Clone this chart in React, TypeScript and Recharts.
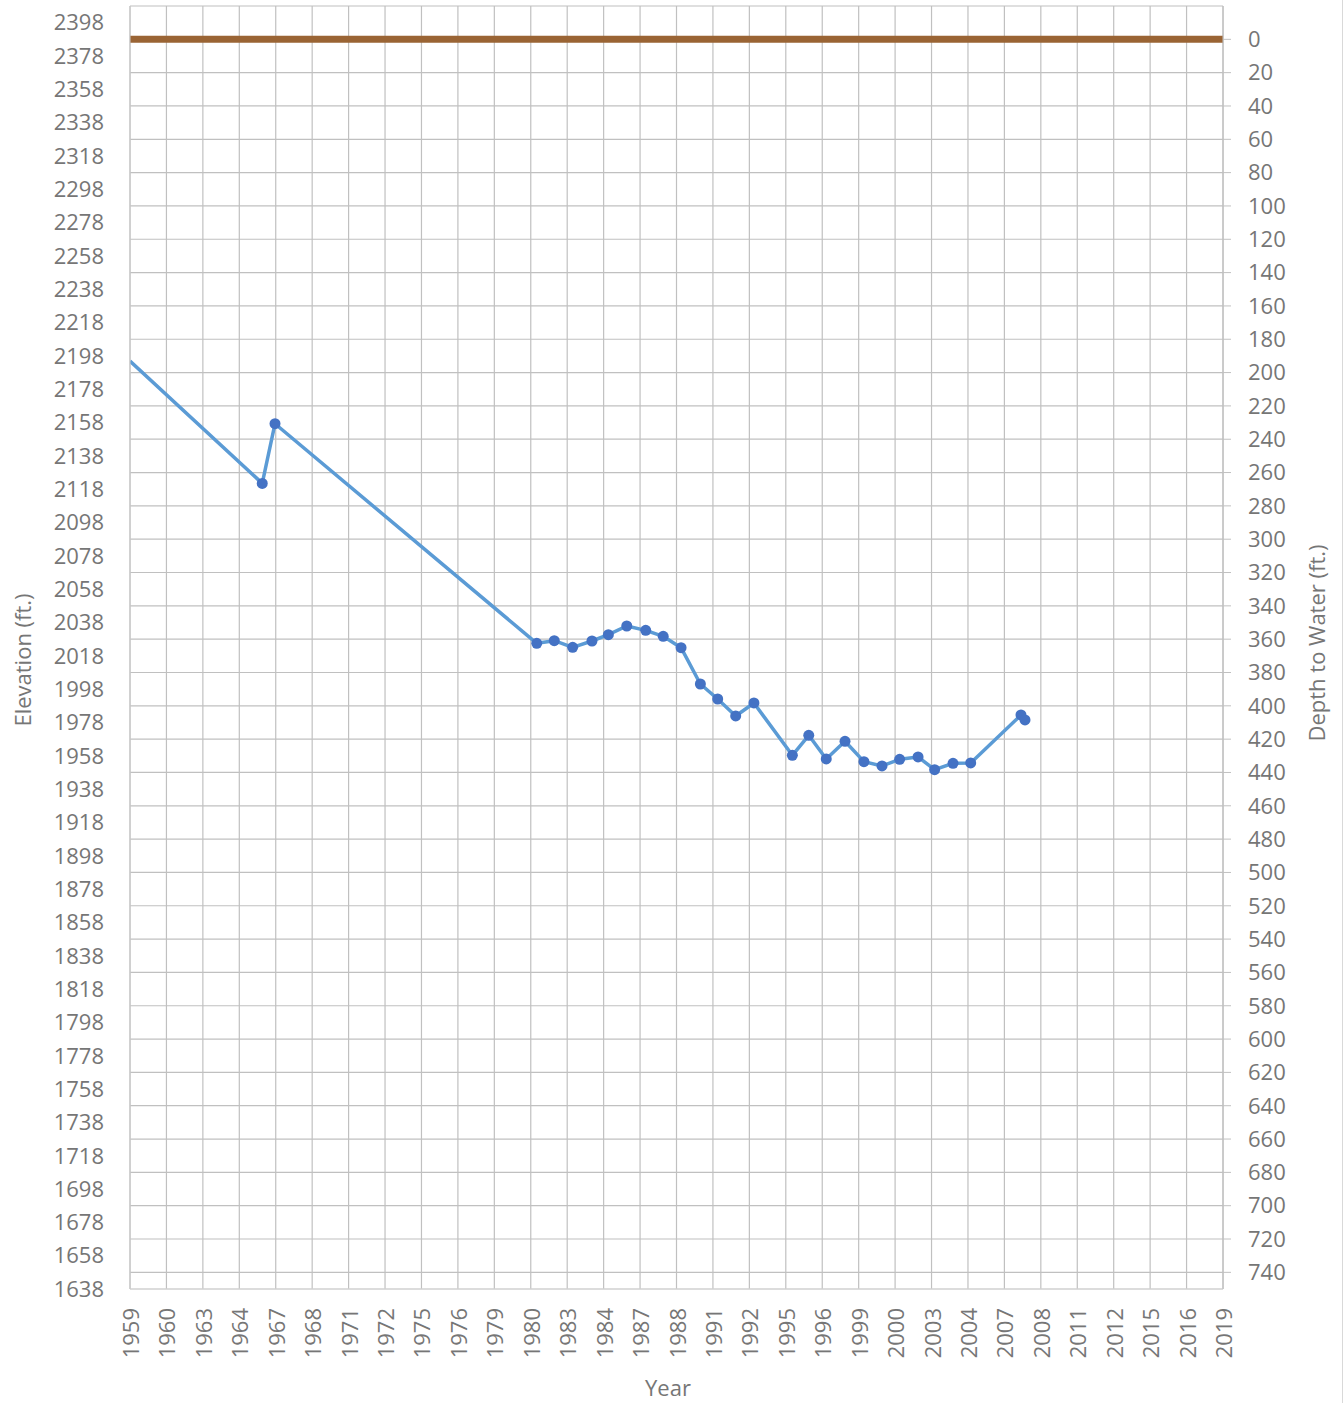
import React from 'react';
import {
  LineChart,
  Line,
  XAxis,
  YAxis,
  CartesianGrid,
} from 'recharts';

// Well hydrograph: measured water level elevation and land surface (depth 0)
const wellYears = [
  1959.0, 1966.26, 1966.96, 1981.33, 1982.29, 1983.3, 1984.36, 1985.26, 1986.27,
  1987.31, 1988.27, 1989.25, 1990.31, 1991.26, 1992.25, 1993.25, 1995.36, 1996.26,
  1997.22, 1998.25, 1999.29, 2000.28, 2001.25, 2002.26, 2003.17, 2004.18, 2005.15,
  2007.91, 2008.13,
];
const wellElevations = [
  2194.9, 2121.5, 2157.3, 2025.5, 2027.1, 2023.1, 2026.9, 2030.7, 2035.9,
  2033.3, 2029.7, 2022.9, 2001.1, 1992.1, 1981.9, 1989.7, 1958.3, 1970.3,
  1956.1, 1966.7, 1954.5, 1951.9, 1955.9, 1957.3, 1949.7, 1953.5, 1953.7,
  1982.5, 1979.5,
];

const landYears = [1959, 2019];
const landDepths = [0, 0];

const yearTickLabels = [
  '1959', '1960', '1963', '1964', '1967', '1968', '1971', '1972', '1975', '1976',
  '1979', '1980', '1983', '1984', '1987', '1988', '1991', '1992', '1995', '1996',
  '1999', '2000', '2003', '2004', '2007', '2008', '2011', '2012', '2015', '2016',
  '2019',
];
const yearTicks = yearTickLabels.map((_, i) => 1959 + i * 2);
const minorYearTicks = Array.from({ length: 61 }, (_, i) => 1959 + i);
const elevationTicks = Array.from({ length: 39 }, (_, i) => 1638 + i * 20);
const depthTicks = Array.from({ length: 38 }, (_, i) => i * 20);

const wellData = wellYears.map((year, i) => ({ year, elevation: wellElevations[i] }));
const landData = landYears.map((year, i) => ({ year, depth: landDepths[i] }));

const FONT = '"Open Sans", sans-serif';
const TEXT = '#767676';

function YearTick(props: any) {
  const { x, y, payload } = props;
  const label = yearTickLabels[Math.round((payload.value - 1959) / 2)];
  return (
    <text
      x={x}
      y={y}
      transform={`rotate(-90, ${x}, ${y})`}
      textAnchor="end"
      dominantBaseline="central"
      fontSize={22}
      fontFamily={FONT}
      fill={TEXT}
    >
      {label}
    </text>
  );
}

// first point sits on the axis edge without a marker
function WellDot(props: any) {
  const { cx, cy, index } = props;
  if (index === 0) return <g key="dot-0" />;
  return <circle key={`dot-${index}`} cx={cx} cy={cy} r={5.5} fill="#4472c4" />;
}

export default function App() {
  const tickStyle = { fontSize: 22, fontFamily: FONT, fill: TEXT };
  return (
    <div style={{ position: 'absolute', left: 0, top: 0, width: 1342, height: 1403, borderRight: '1px solid #d9d9d9', background: '#fff' }}>
      <LineChart width={1342} height={1403} margin={{ top: 6, right: 0, bottom: 0, left: 0 }}>
        <XAxis
          xAxisId="minor"
          orientation="top"
          type="number"
          dataKey="year"
          domain={[1959, 2019]}
          ticks={minorYearTicks}
          height={0}
          tick={false}
          tickLine={false}
          axisLine={{ stroke: '#d9d9d9' }}
          allowDataOverflow
        />
        <XAxis
          xAxisId="main"
          type="number"
          dataKey="year"
          domain={[1959, 2019]}
          ticks={yearTicks}
          interval={0}
          height={114}
          tickLine={false}
          tickSize={6}
          tickMargin={13}
          tick={<YearTick />}
          axisLine={{ stroke: '#d9d9d9' }}
          allowDataOverflow
          label={{
            content: () => (
              <text x={668} y={1396} textAnchor="middle" fontSize={22} fontFamily={FONT} fill={TEXT}>
                Year
              </text>
            ),
          }}
        />
        <YAxis
          yAxisId="left"
          type="number"
          domain={[1638, 2408]}
          ticks={elevationTicks}
          interval={0}
          width={130}
          tickLine={false}
          tickSize={6}
          tickMargin={20}
          tick={tickStyle}
          axisLine={{ stroke: '#cccccc' }}
          allowDataOverflow
          label={{
            content: () => (
              <text
                x={22}
                y={660}
                transform="rotate(-90, 22, 660)"
                textAnchor="middle"
                dominantBaseline="central"
                fontSize={22}
                fontFamily={FONT}
                fill={TEXT}
              >
                Elevation (ft.)
              </text>
            ),
          }}
        />
        <YAxis
          yAxisId="right"
          orientation="right"
          type="number"
          domain={[-20, 750]}
          reversed
          ticks={depthTicks}
          interval={0}
          width={119}
          tickLine={{ stroke: '#c0c0c0' }}
          tickSize={8}
          tickMargin={17}
          tick={{ ...tickStyle, textAnchor: 'start' }}
          axisLine={{ stroke: '#c0c0c0' }}
          allowDataOverflow
          label={{
            content: () => (
              <text
                x={1316}
                y={643}
                transform="rotate(-90, 1316, 643)"
                textAnchor="middle"
                dominantBaseline="central"
                fontSize={22}
                fontFamily={FONT}
                fill={TEXT}
              >
                Depth to Water (ft.)
              </text>
            ),
          }}
        />
        <CartesianGrid xAxisId="minor" yAxisId="right" horizontal={false} stroke="#ebebeb" strokeWidth={1} />
        <CartesianGrid xAxisId="main" yAxisId="right" stroke="#c0c0c0" strokeWidth={1.2} />
        <Line
          data={landData}
          xAxisId="main"
          yAxisId="right"
          dataKey="depth"
          stroke="#9a6434"
          strokeWidth={7}
          dot={false}
          activeDot={false}
          isAnimationActive={false}
        />
        <Line
          data={wellData}
          xAxisId="main"
          yAxisId="left"
          dataKey="elevation"
          stroke="#5b9bd5"
          strokeWidth={3.5}
          strokeLinejoin="round"
          dot={<WellDot />}
          activeDot={false}
          isAnimationActive={false}
        />
      </LineChart>
    </div>
  );
}
